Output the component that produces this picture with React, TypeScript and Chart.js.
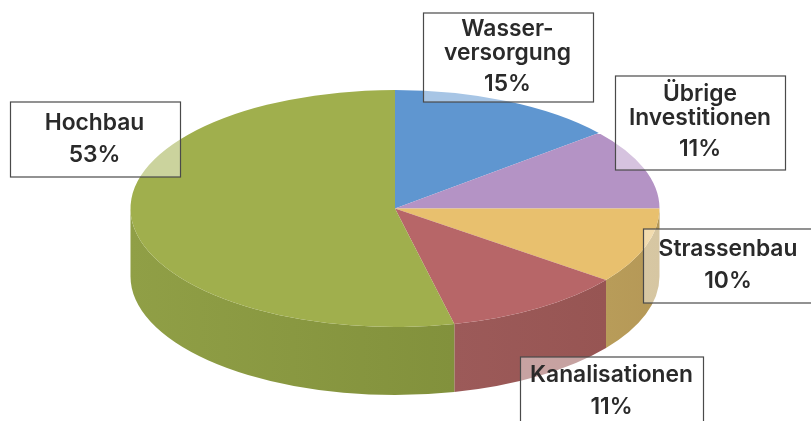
import React, { useEffect, useRef } from "react";
import { Chart, registerables } from "chart.js";

Chart.register(...registerables);

const categories = ["Wasserversorgung", "Übrige Investitionen", "Strassenbau", "Kanalisationen", "Hochbau"];
// Slice shares (the picture's perspective shifts them slightly from the printed %).
const sliceShares = [14, 11, 10.3, 11.1, 53.6];
const printedPercents = ["15%", "11%", "10%", "11%", "53%"];
const labelLines = [["Wasser-", "versorgung"], ["Übrige", "Investitionen"], ["Strassenbau"], ["Kanalisationen"], ["Hochbau"]];

const topColors = ["#5F96D0", "#B493C5", "#E8C06E", "#B76668", "#A0AF4D"];
const wallColors = [
  ["#4C78A6", "#4C78A6"],
  ["#90769E", "#90769E"],
  ["#B89C59", "#B59857"],
  ["#9C5A59", "#975553"],
  ["#909F46", "#82913C"],
];

const pieGeom = { cx: 395, cy: 208.5, rx: 264.5, ry: 118.5, depth: 68 };
const FONT = '600 22.8px Inter, "Liberation Sans", sans-serif';

const boxes = [
  { x: 423.5, y: 13, w: 170, h: 89, tx: 507.5, base: [36, 60, 91] },
  { x: 615.5, y: 76, w: 170, h: 94, tx: 700, base: [101, 125, 156] },
  { x: 643.5, y: 229, w: 180, h: 74, tx: 728, base: [256, 288] },
  { x: 520.5, y: 357, w: 183, h: 80, tx: 611.5, base: [382, 414] },
  { x: 10.5, y: 102, w: 170, h: 75, tx: 94.5, base: [130, 162] },
];

const pie3d = {
  id: "pie3d",
  beforeDatasetsDraw(chart: any) {
    const ctx = chart.ctx;
    const arcs = chart.getDatasetMeta(0).data;
    const { cx, cy, rx, ry, depth } = pieGeom;
    arcs.forEach((arc: any, i: number) => {
      const a = Math.max(arc.startAngle, 0);
      const b = Math.min(arc.endAngle, Math.PI);
      if (b <= a) return;
      const x1 = cx + rx * Math.cos(b);
      const x2 = cx + rx * Math.cos(a);
      const g = ctx.createLinearGradient(x1, 0, x2, 0);
      g.addColorStop(0, wallColors[i][0]);
      g.addColorStop(1, wallColors[i][1]);
      ctx.beginPath();
      ctx.ellipse(cx, cy, rx, ry, 0, a, b);
      ctx.ellipse(cx, cy + depth, rx, ry, 0, b, a, true);
      ctx.closePath();
      ctx.fillStyle = g;
      ctx.fill();
    });
    const first = arcs[0];
    const R = first.outerRadius;
    ctx.save();
    ctx.translate(cx, cy);
    ctx.scale(rx / R, ry / R);
    ctx.translate(-first.x, -first.y);
  },
  afterDatasetsDraw(chart: any) {
    chart.ctx.restore();
  },
  afterDraw(chart: any) {
    const ctx = chart.ctx;
    boxes.forEach((b, i) => {
      ctx.fillStyle = "rgba(255,255,255,0.45)";
      ctx.fillRect(b.x, b.y, b.w, b.h);
      ctx.strokeStyle = "#4a4a4a";
      ctx.lineWidth = 1.2;
      ctx.strokeRect(b.x, b.y, b.w, b.h);
      ctx.fillStyle = "#2a2a2a";
      ctx.font = FONT;
      ctx.textAlign = "center";
      ctx.textBaseline = "alphabetic";
      const lines = [...labelLines[i], printedPercents[i]];
      lines.forEach((t, k) => ctx.fillText(t, b.tx, b.base[k]));
    });
  },
};

export default function App() {
  const ref = useRef<HTMLCanvasElement>(null);
  useEffect(() => {
    const chart = new Chart(ref.current!, {
      type: "pie",
      data: {
        labels: categories,
        datasets: [{ data: sliceShares, backgroundColor: topColors, borderWidth: 0 }],
      },
      options: {
        animation: false,
        responsive: false,
        plugins: { legend: { display: false }, tooltip: { enabled: false } },
      },
      plugins: [pie3d],
    });
    return () => chart.destroy();
  }, []);
  return (
    <div style={{ position: "absolute", left: 0, top: 0, width: 811, height: 421, background: "#fff", overflow: "hidden" }}>
      <canvas ref={ref} width={811} height={421} style={{ display: "block" }} />
    </div>
  );
}
